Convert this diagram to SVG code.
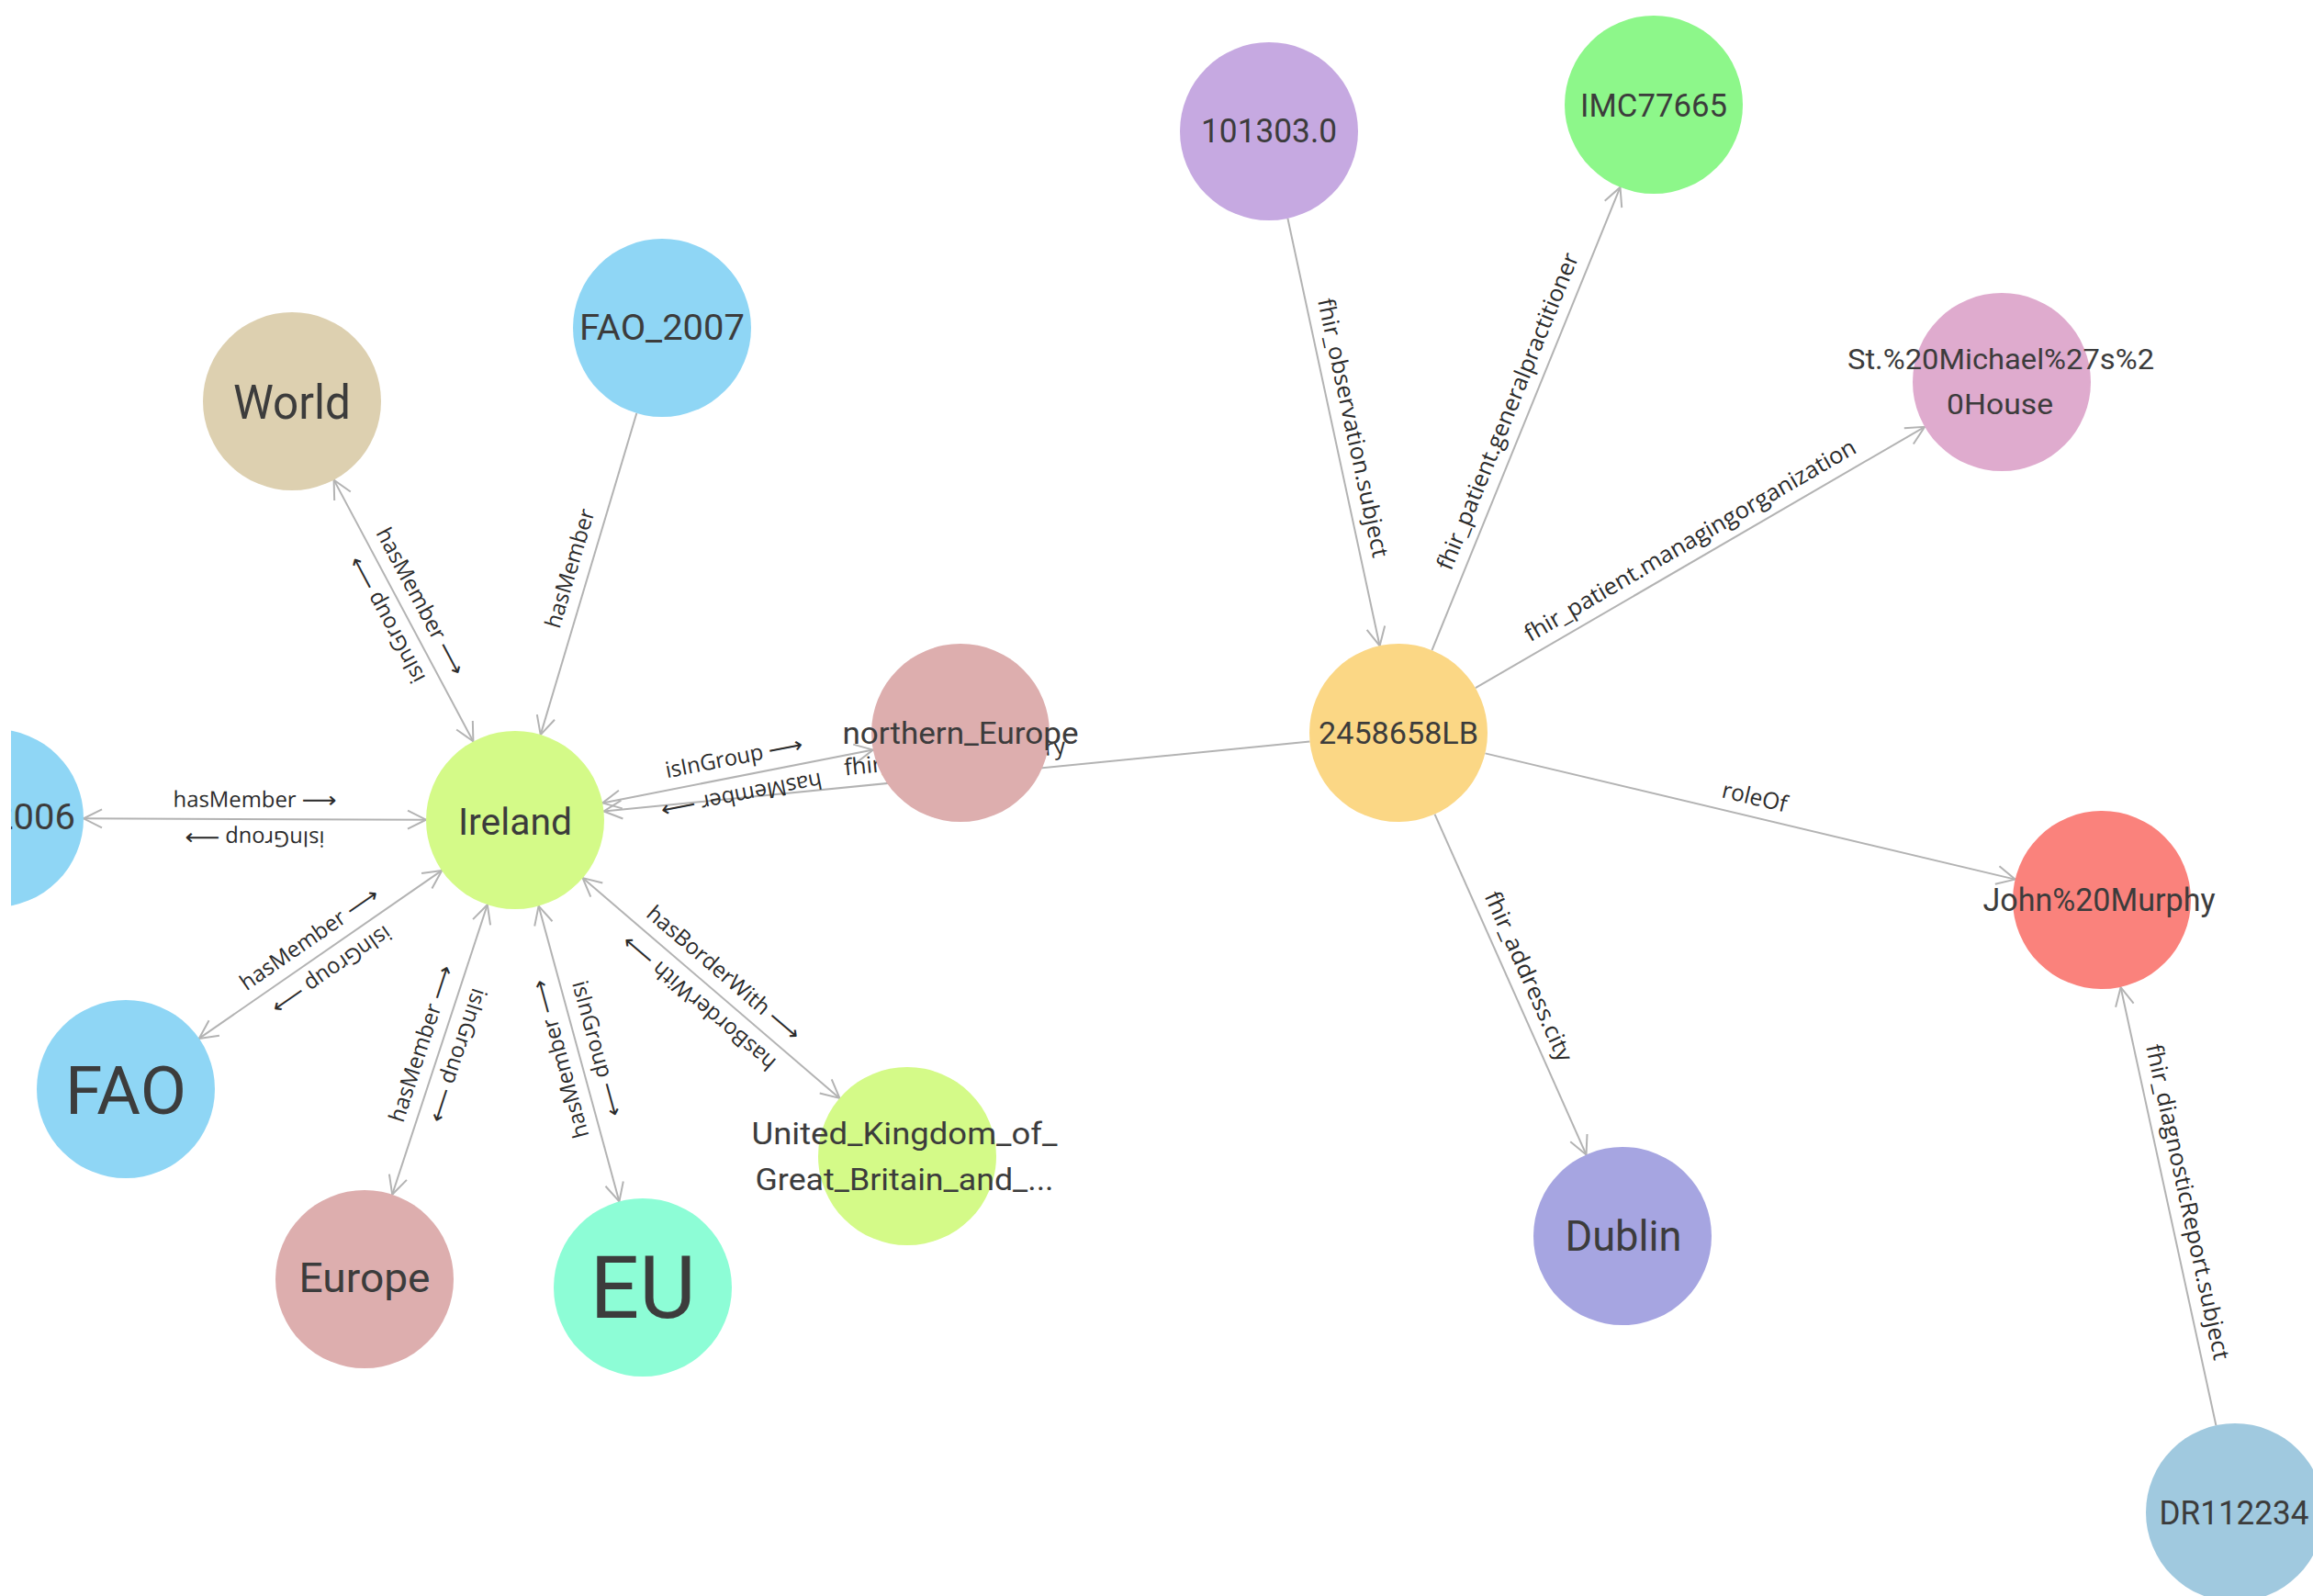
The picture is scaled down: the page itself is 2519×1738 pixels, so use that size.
<svg xmlns="http://www.w3.org/2000/svg" width="2519" height="1738" viewBox="0 0 2519 1738">
<style>
.edge{stroke:#b3b3b3;stroke-width:2;fill:none}
.lbl{font-family:"Open Sans","DejaVu Sans",sans-serif;font-size:24px;fill:#2b2b2b}
.fl{font-size:25px}
.mid{text-anchor:middle}
.arw{font-family:"DejaVu Sans",sans-serif;font-size:24px;fill:#2b2b2b}
.nt{font-family:Roboto,"Liberation Sans",sans-serif;fill:#3c3c3c;text-anchor:middle}
</style>
<defs>
<marker id="ah" markerUnits="userSpaceOnUse" markerWidth="30" markerHeight="30" viewBox="-25 -15 30 30" refX="0" refY="0" orient="auto-start-reverse" overflow="visible">
<path d="M-20,-10 L0,0 L-20,10" fill="none" stroke="#b3b3b3" stroke-width="2"/>
</marker>
<clipPath id="leftclip"><rect x="12" y="0" width="2507" height="1738"/></clipPath>
</defs>
<rect width="2519" height="1738" fill="#ffffff"/>

<g id="connectors">
<line class="edge" x1="363.6" y1="522.6" x2="515.4" y2="807.4" marker-start="url(#ah)" marker-end="url(#ah)"/>
<line class="edge" x1="693.3" y1="450.0" x2="588.7" y2="800.1" marker-end="url(#ah)"/>
<line class="edge" x1="91" y1="891.3" x2="464" y2="892.7" marker-start="url(#ah)" marker-end="url(#ah)"/>
<line class="edge" x1="216.8" y1="1130.9" x2="481.2" y2="947.9" marker-start="url(#ah)" marker-end="url(#ah)"/>
<line class="edge" x1="427.2" y1="1300.8" x2="530.8" y2="985.2" marker-start="url(#ah)" marker-end="url(#ah)"/>
<line class="edge" x1="586.6" y1="986.6" x2="674.4" y2="1308.4" marker-start="url(#ah)" marker-end="url(#ah)"/>
<line class="edge" x1="634.6" y1="956.1" x2="914.4" y2="1195.9" marker-start="url(#ah)" marker-end="url(#ah)"/>
<line class="edge" x1="656.2" y1="874.4" x2="950.8" y2="816.6" marker-start="url(#ah)" marker-end="url(#ah)"/>
<line class="edge" x1="1426.5" y1="807.5" x2="657.5" y2="883.5" marker-end="url(#ah)"/>
<line class="edge" x1="1402.4" y1="237.8" x2="1502.6" y2="703.2" marker-end="url(#ah)"/>
<line class="edge" x1="1559.5" y1="708.1" x2="1764.5" y2="203.9" marker-end="url(#ah)"/>
<line class="edge" x1="1606.9" y1="749.2" x2="2096.1" y2="464.8" marker-end="url(#ah)"/>
<line class="edge" x1="1617.4" y1="820.4" x2="2194.6" y2="957.6" marker-end="url(#ah)"/>
<line class="edge" x1="1562.5" y1="886.6" x2="1727.5" y2="1257.4" marker-end="url(#ah)"/>
<line class="edge" x1="2413.4" y1="1552.2" x2="2309.6" y2="1075.2" marker-end="url(#ah)"/>
</g>

<g id="edge-labels">
<g transform="translate(439.5 665) rotate(61.95)"><text class="lbl" x="-89" y="-13" textLength="134" lengthAdjust="spacingAndGlyphs">hasMember</text><text class="arw" x="51" y="-13" textLength="38" lengthAdjust="spacingAndGlyphs">⟶</text></g>
<g transform="translate(439.5 665) rotate(-118.05)"><text class="lbl" x="-76" y="-13" textLength="108" lengthAdjust="spacingAndGlyphs">isInGroup</text><text class="arw" x="38" y="-13" textLength="38" lengthAdjust="spacingAndGlyphs">⟶</text></g>
<g transform="translate(641 625) rotate(-73.37)"><text class="lbl mid" x="0" y="-13" textLength="134" lengthAdjust="spacingAndGlyphs">hasMember</text></g>
<g transform="translate(277.5 892) rotate(0.2)"><text class="lbl" x="-89" y="-13" textLength="134" lengthAdjust="spacingAndGlyphs">hasMember</text><text class="arw" x="51" y="-13" textLength="38" lengthAdjust="spacingAndGlyphs">⟶</text></g>
<g transform="translate(277.5 892) rotate(180.2)"><text class="lbl" x="-76" y="-13" textLength="108" lengthAdjust="spacingAndGlyphs">isInGroup</text><text class="arw" x="38" y="-13" textLength="38" lengthAdjust="spacingAndGlyphs">⟶</text></g>
<g transform="translate(349 1039.5) rotate(-34.64)"><text class="lbl" x="-89" y="-13" textLength="134" lengthAdjust="spacingAndGlyphs">hasMember</text><text class="arw" x="51" y="-13" textLength="38" lengthAdjust="spacingAndGlyphs">⟶</text></g>
<g transform="translate(349 1039.5) rotate(145.36)"><text class="lbl" x="-76" y="-13" textLength="108" lengthAdjust="spacingAndGlyphs">isInGroup</text><text class="arw" x="38" y="-13" textLength="38" lengthAdjust="spacingAndGlyphs">⟶</text></g>
<g transform="translate(479 1143) rotate(-71.84)"><text class="lbl" x="-89" y="-13" textLength="134" lengthAdjust="spacingAndGlyphs">hasMember</text><text class="arw" x="51" y="-13" textLength="38" lengthAdjust="spacingAndGlyphs">⟶</text></g>
<g transform="translate(479 1143) rotate(108.16)"><text class="lbl" x="-76" y="-13" textLength="108" lengthAdjust="spacingAndGlyphs">isInGroup</text><text class="arw" x="38" y="-13" textLength="38" lengthAdjust="spacingAndGlyphs">⟶</text></g>
<g transform="translate(630.5 1147.5) rotate(74.72)"><text class="lbl" x="-76" y="-13" textLength="108" lengthAdjust="spacingAndGlyphs">isInGroup</text><text class="arw" x="38" y="-13" textLength="38" lengthAdjust="spacingAndGlyphs">⟶</text></g>
<g transform="translate(630.5 1147.5) rotate(-105.28)"><text class="lbl" x="-89" y="-13" textLength="134" lengthAdjust="spacingAndGlyphs">hasMember</text><text class="arw" x="51" y="-13" textLength="38" lengthAdjust="spacingAndGlyphs">⟶</text></g>
<g transform="translate(774.5 1076) rotate(40.6)"><text class="lbl" x="-106" y="-13" textLength="168" lengthAdjust="spacingAndGlyphs">hasBorderWith</text><text class="arw" x="68" y="-13" textLength="38" lengthAdjust="spacingAndGlyphs">⟶</text></g>
<g transform="translate(774.5 1076) rotate(-139.4)"><text class="lbl" x="-106" y="-13" textLength="168" lengthAdjust="spacingAndGlyphs">hasBorderWith</text><text class="arw" x="68" y="-13" textLength="38" lengthAdjust="spacingAndGlyphs">⟶</text></g>
<g transform="translate(803.5 845.5) rotate(-11.08)"><text class="lbl" x="-76" y="-13" textLength="108" lengthAdjust="spacingAndGlyphs">isInGroup</text><text class="arw" x="38" y="-13" textLength="38" lengthAdjust="spacingAndGlyphs">⟶</text></g>
<g transform="translate(803.5 845.5) rotate(168.92)"><text class="lbl" x="-89" y="-13" textLength="134" lengthAdjust="spacingAndGlyphs">hasMember</text><text class="arw" x="51" y="-13" textLength="38" lengthAdjust="spacingAndGlyphs">⟶</text></g>
<g transform="translate(1042 845.5) rotate(-5.64)"><text class="lbl fl mid" x="0" y="-13" textLength="242" lengthAdjust="spacingAndGlyphs">fhir_address.country</text></g>
<g transform="translate(1452.5 470.5) rotate(77.85)"><text class="lbl fl mid" x="0" y="-13" textLength="288" lengthAdjust="spacingAndGlyphs">fhir_observation.subject</text></g>
<g transform="translate(1662 456) rotate(-67.88)"><text class="lbl fl mid" x="0" y="-13" textLength="370" lengthAdjust="spacingAndGlyphs">fhir_patient.generalpractitioner</text></g>
<g transform="translate(1851.5 607) rotate(-30.17)"><text class="lbl fl mid" x="0" y="-13" textLength="413" lengthAdjust="spacingAndGlyphs">fhir_patient.managingorganization</text></g>
<g transform="translate(1906 889) rotate(13.37)"><text class="lbl fl mid" x="0" y="-13" textLength="72" lengthAdjust="spacingAndGlyphs">roleOf</text></g>
<g transform="translate(1645 1072) rotate(65.99)"><text class="lbl fl mid" x="0" y="-13" textLength="200" lengthAdjust="spacingAndGlyphs">fhir_address.city</text></g>
<g transform="translate(2361.5 1313.5) rotate(77.74)"><text class="lbl fl mid" x="0" y="-13" textLength="351" lengthAdjust="spacingAndGlyphs">fhir_diagnosticReport.subject</text></g>
</g>

<g id="nodes">
<g id="node-world"><circle cx="318" cy="437" r="97" fill="#ddd0b0"/><text class="nt" x="318" y="456" font-size="52" textLength="128" lengthAdjust="spacingAndGlyphs">World</text></g>
<g id="node-fao2007"><circle cx="721" cy="357" r="97" fill="#8fd6f5"/><text class="nt" x="721" y="370" font-size="38" textLength="180" lengthAdjust="spacingAndGlyphs">FAO_2007</text></g>
<g id="node-fao2006" clip-path="url(#leftclip)"><circle cx="-6" cy="891" r="97" fill="#8fd6f5"/><text class="nt" x="-8" y="903" font-size="38" textLength="180" lengthAdjust="spacingAndGlyphs">FAO_2006</text></g>
<g id="node-ireland"><circle cx="561" cy="893" r="97" fill="#d4fa88"/><text class="nt" x="561" y="909" font-size="41" textLength="124" lengthAdjust="spacingAndGlyphs">Ireland</text></g>
<g id="node-northern-europe"><circle cx="1046" cy="798" r="97" fill="#ddaeae"/><text class="nt" x="1046" y="810" font-size="33" textLength="257" lengthAdjust="spacingAndGlyphs">northern_Europe</text></g>
<g id="node-2458658lb"><circle cx="1523" cy="798" r="97" fill="#fbd785"/><text class="nt" x="1523" y="810" font-size="34" textLength="174" lengthAdjust="spacingAndGlyphs">2458658LB</text></g>
<g id="node-101303"><circle cx="1382" cy="143" r="97" fill="#c6a9e1"/><text class="nt" x="1382" y="155" font-size="36" textLength="148" lengthAdjust="spacingAndGlyphs">101303.0</text></g>
<g id="node-imc77665"><circle cx="1801" cy="114" r="97" fill="#8df78a"/><text class="nt" x="1801" y="127" font-size="35" textLength="160" lengthAdjust="spacingAndGlyphs">IMC77665</text></g>
<g id="node-stmichael"><circle cx="2180" cy="416" r="97" fill="#dfabce"/><text class="nt" x="2179" y="402" font-size="32" textLength="334" lengthAdjust="spacingAndGlyphs">St.%20Michael%27s%2</text><text class="nt" x="2178" y="451" font-size="32" textLength="116" lengthAdjust="spacingAndGlyphs">0House</text></g>
<g id="node-john"><circle cx="2289" cy="980" r="97" fill="#fa827c"/><text class="nt" x="2286" y="992" font-size="35" textLength="253" lengthAdjust="spacingAndGlyphs">John%20Murphy</text></g>
<g id="node-fao"><circle cx="137" cy="1186" r="97" fill="#8fd6f5"/><text class="nt" x="137" y="1213" font-size="72" textLength="132" lengthAdjust="spacingAndGlyphs">FAO</text></g>
<g id="node-uk"><circle cx="988" cy="1259" r="97" fill="#d4fa88"/><text class="nt" x="985" y="1246" font-size="33" textLength="333" lengthAdjust="spacingAndGlyphs">United_Kingdom_of_</text><text class="nt" x="985" y="1296" font-size="33" textLength="325" lengthAdjust="spacingAndGlyphs">Great_Britain_and_...</text></g>
<g id="node-europe"><circle cx="397" cy="1393" r="97" fill="#ddaeae"/><text class="nt" x="397" y="1407" font-size="44" textLength="143" lengthAdjust="spacingAndGlyphs">Europe</text></g>
<g id="node-eu"><circle cx="700" cy="1402" r="97" fill="#8dfdd6"/><text class="nt" x="700" y="1435" font-size="95" textLength="115" lengthAdjust="spacingAndGlyphs">EU</text></g>
<g id="node-dublin"><circle cx="1767" cy="1346" r="97" fill="#a6a5e1"/><text class="nt" x="1768" y="1362" font-size="46" textLength="127" lengthAdjust="spacingAndGlyphs">Dublin</text></g>
<g id="node-dr112234"><circle cx="2434" cy="1647" r="97" fill="#a0c9df"/><text class="nt" x="2433" y="1660" font-size="37" textLength="163" lengthAdjust="spacingAndGlyphs">DR112234</text></g>
</g>
</svg>
